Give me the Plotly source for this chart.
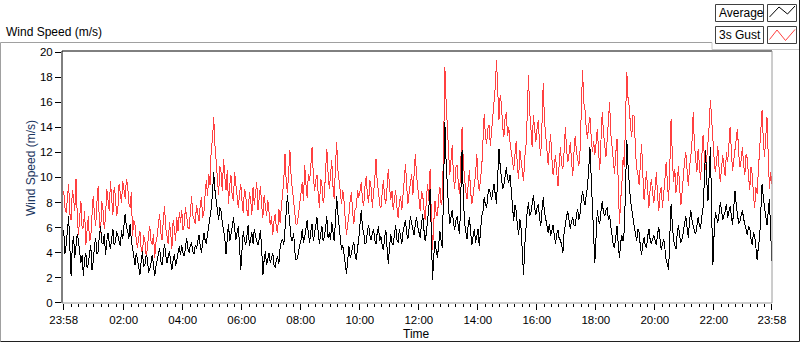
import plotly.graph_objects as go

# ---------------- data ----------------
# Samples every 5 minutes starting at 23:58, plus the reading found half-way
# between each pair of samples (the "_between" arrays).
step_minutes = 5
gust = [
    8.9, 7.2, 9.5, 6.6, 8.4, 9.9,
    5.4, 8.1, 6.0, 4.6, 6.9, 5.2,
    8.5, 6.1, 9.3, 5.6, 7.4, 6.8,
    8.2, 9.7, 7.0, 8.6, 7.4, 8.9,
    9.7, 8.3, 9.4, 7.6, 5.3, 6.2,
    4.4, 5.7, 3.9, 5.0, 4.2, 6.1,
    4.6, 3.6, 5.3, 7.1, 5.0, 7.7,
    5.2, 6.4, 4.3, 5.9, 6.8, 7.2,
    7.4, 6.2, 6.9, 5.9, 8.5, 6.6,
    7.8, 6.5, 8.4, 7.2, 9.8, 10.3,
    12.4, 14.8, 11.2, 8.6, 10.4, 11.5,
    9.0, 7.9, 10.2, 8.1, 9.3, 7.6,
    9.5, 7.2, 8.6, 6.9, 8.3, 9.2,
    8.8, 7.4, 9.3, 6.8, 7.9, 8.2,
    6.2, 5.4, 7.1, 5.6, 6.4, 8.9,
    11.9, 8.8, 12.2, 9.1, 7.4, 6.3,
    7.8, 9.6, 11.0, 8.4, 9.7, 12.4,
    8.9, 10.2, 7.6, 9.4, 8.5, 12.3,
    9.1, 11.4, 8.3, 12.8, 9.8, 7.9,
    8.1, 5.4, 7.0, 8.8, 6.3, 7.6,
    8.4, 9.6, 7.7, 10.1, 8.0, 9.2,
    8.5, 11.5, 8.9, 7.6, 9.8, 7.9,
    10.7, 8.2, 7.4, 9.0, 6.8, 8.5,
    8.8, 11.1, 7.9, 9.4, 8.6, 11.9,
    9.0, 7.3, 8.6, 6.6, 9.5, 10.7,
    4.2, 8.1, 6.9, 9.2, 8.4, 18.8,
    14.3, 10.2, 12.6, 9.1, 11.0, 8.7,
    14.0, 9.8, 8.3, 10.6, 7.9, 9.4,
    11.9, 8.9, 10.8, 15.1, 12.7, 14.2,
    13.6, 16.3, 19.4, 14.6, 15.8, 13.2,
    15.2, 14.0, 12.1, 10.6, 12.9, 9.9,
    11.4, 9.7, 12.6, 18.2, 13.5, 15.0,
    12.8, 14.6, 11.7, 17.5, 13.2, 11.0,
    13.5, 10.2, 11.8, 9.3, 12.4, 10.7,
    14.0, 11.2, 12.8, 10.1, 13.3, 11.6,
    12.2, 18.6, 15.4, 13.1, 14.8, 12.0,
    11.8, 13.9, 10.6, 15.2, 12.5, 13.0,
    16.0, 12.4, 10.3, 13.1, 6.3, 9.5,
    10.8, 18.4, 15.6, 13.2, 14.9, 10.7,
    9.4, 12.7, 8.2, 10.5, 7.6, 9.9,
    8.0, 10.4, 7.3, 9.2, 8.5, 11.2,
    8.1, 14.7, 9.6, 8.8, 10.9, 7.8,
    10.2, 12.0, 9.3, 11.6, 15.2, 11.1,
    12.3, 9.8, 13.4, 10.6, 12.8, 16.2,
    13.1, 10.4, 12.5, 9.6, 11.8, 10.1,
    11.2, 14.0, 10.5, 12.1, 13.9, 10.8,
    12.4, 10.2, 11.5, 9.0, 10.3, 7.6,
    8.7, 12.1, 15.4, 11.6, 14.8, 9.1,
    9.5,
]
gust_between = [
    7.6, 8.8, 7.1, 9.0, 7.3, 7.0,
    6.8, 5.9, 7.3, 5.8, 4.9, 7.0,
    7.0, 8.0, 6.4, 8.1, 5.9, 9.1,
    7.3, 8.4, 9.2, 6.9, 9.5, 8.0,
    8.8, 9.9, 7.9, 8.8, 6.6, 5.0,
    5.2, 4.3, 5.4, 3.8, 5.5, 4.9,
    5.5, 4.8, 6.2, 5.6, 6.6, 5.9,
    4.7, 5.6, 6.6, 4.9, 5.7, 6.4,
    5.8, 7.6, 6.0, 7.1, 7.0, 6.3,
    7.1, 7.7, 6.8, 8.6, 8.5, 9.4,
    13.0, 12.6, 9.8, 10.9, 8.9, 10.1,
    10.6, 9.3, 8.6, 10.4, 8.2, 8.7,
    8.1, 9.1, 7.4, 8.8, 7.0, 7.8,
    9.6, 8.4, 7.8, 8.6, 6.9, 7.1,
    6.9, 6.5, 5.9, 7.5, 7.6, 9.8,
    9.6, 10.8, 10.0, 8.2, 6.2, 7.1,
    8.7, 8.1, 9.5, 10.3, 11.0, 10.2,
    9.8, 8.6, 9.9, 8.0, 10.6, 10.4,
    10.2, 9.3, 10.9, 10.6, 8.6, 9.0,
    6.6, 6.3, 8.2, 7.2, 7.5, 9.0,
    8.9, 8.2, 9.3, 8.6, 9.8, 7.6,
    9.9, 9.6, 7.8, 9.0, 8.4, 9.2,
    9.3, 8.9, 8.3, 7.6, 8.0, 7.4,
    10.0, 9.2, 8.8, 10.3, 9.9, 10.1,
    8.2, 8.9, 7.4, 8.3, 8.1, 6.9,
    6.4, 7.0, 8.5, 7.8, 12.6, 16.1,
    11.8, 11.4, 10.0, 10.8, 9.4, 11.3,
    11.2, 8.9, 9.9, 8.8, 8.6, 10.3,
    9.7, 10.1, 12.9, 13.2, 13.9, 12.5,
    15.0, 17.2, 16.1, 16.6, 14.1, 14.8,
    13.3, 12.8, 11.3, 11.8, 10.8, 12.2,
    10.3, 11.6, 14.9, 15.3, 12.4, 13.7,
    13.9, 12.6, 14.3, 14.6, 12.0, 12.3,
    11.6, 10.9, 10.4, 11.1, 11.0, 12.1,
    12.3, 11.9, 11.4, 12.0, 12.1, 10.9,
    15.6, 16.0, 13.9, 14.2, 13.3, 12.9,
    12.7, 12.1, 13.0, 13.6, 11.6, 14.4,
    13.5, 11.1, 11.9, 9.6, 8.2, 11.6,
    14.9, 16.3, 14.1, 15.0, 12.2, 10.3,
    11.0, 10.3, 9.3, 8.9, 9.1, 8.8,
    9.1, 8.6, 8.8, 7.6, 9.9, 9.4,
    11.0, 11.8, 10.7, 9.5, 9.1, 8.9,
    11.3, 10.5, 10.8, 12.9, 12.6, 10.4,
    10.9, 11.7, 11.8, 11.5, 14.1, 14.0,
    11.5, 11.3, 10.8, 10.7, 10.9, 12.0,
    12.6, 12.2, 11.4, 12.9, 11.9, 11.4,
    11.0, 11.9, 10.1, 10.8, 8.6, 9.2,
    10.6, 13.6, 13.0, 13.2, 11.8, 10.4,
]
average = [
    5.8, 4.6, 6.9, 2.1, 5.3, 4.4,
    4.9, 3.2, 2.1, 4.0, 3.1, 4.6,
    3.3, 5.2, 4.1, 6.1, 4.7, 3.8,
    5.6, 4.3, 5.9, 4.8, 5.4, 4.5,
    5.1, 7.1, 5.8, 6.3, 4.2, 3.0,
    3.4, 2.2, 4.1, 3.0, 3.6, 2.7,
    3.8, 2.1, 3.5, 4.4, 3.0, 4.7,
    3.2, 4.1, 2.6, 3.9, 3.4, 4.5,
    4.6, 3.7, 5.2, 4.0, 4.8, 3.9,
    4.3, 5.4, 4.0, 5.6, 4.7, 6.2,
    7.5, 10.4, 8.1, 6.6, 7.3, 5.8,
    3.9, 6.3, 5.4, 6.8, 5.0, 6.1,
    2.6, 5.7, 4.6, 6.2, 5.1, 4.7,
    5.3, 4.6, 5.8, 2.2, 4.1, 3.6,
    3.2, 4.0, 2.8, 3.7, 4.4, 5.1,
    5.8, 8.6, 6.2, 4.9, 4.1, 3.5,
    4.6, 5.9, 5.2, 6.6, 4.8, 6.3,
    5.5, 6.8, 4.7, 6.1, 5.3, 6.9,
    5.6, 6.4, 4.9, 8.5, 6.0, 4.2,
    3.6, 2.3, 4.5, 3.9, 4.8, 3.4,
    5.1, 7.4, 5.6, 4.8, 6.2, 5.0,
    5.9, 4.7, 6.1, 5.3, 4.2, 5.8,
    3.1, 5.5, 4.6, 6.2, 4.8, 5.4,
    5.7, 6.6, 5.1, 6.9, 5.9, 6.3,
    6.0, 5.2, 7.1, 4.9, 6.4, 9.1,
    1.8, 4.9, 3.6, 5.7, 4.4, 14.4,
    9.0, 6.3, 7.4, 5.8, 6.9, 5.5,
    12.2, 6.4, 5.1, 6.8, 4.6, 5.9,
    5.3, 4.5, 6.9, 8.4, 7.6, 9.1,
    8.2, 9.5, 7.9, 12.3, 10.2, 9.4,
    10.8, 9.6, 8.8, 6.5, 7.3, 5.4,
    5.9, 2.2, 6.4, 8.0, 7.2, 8.6,
    7.0, 7.9, 6.1, 8.4, 6.8, 5.6,
    5.3, 6.2, 4.7, 5.8, 5.0, 4.0,
    6.5, 7.3, 5.9, 6.8, 6.1, 7.5,
    7.1, 8.9, 7.8, 9.3, 12.4, 8.2,
    3.2, 7.4, 6.3, 8.1, 6.9, 7.6,
    7.0, 5.2, 4.4, 6.1, 3.6, 5.4,
    5.8, 13.0, 9.2, 7.5, 6.1, 4.9,
    5.6, 3.8, 5.2, 4.4, 5.9, 4.7,
    5.4, 4.6, 6.0, 4.2, 5.1, 3.4,
    2.6, 7.9, 5.0, 4.3, 6.2, 4.8,
    5.7, 6.9, 5.2, 7.4, 6.1, 5.5,
    6.8, 5.9, 7.6, 12.2, 8.1, 12.4,
    3.0, 7.2, 6.4, 8.0, 6.6, 7.3,
    6.8, 7.7, 6.2, 8.9, 7.0, 6.5,
    7.4, 6.3, 5.4, 6.0, 4.6, 5.3,
    3.4, 5.1, 9.5, 7.8, 6.2, 8.3,
    3.3,
]
average_between = [
    3.9, 5.7, 4.4, 4.6, 3.6, 5.5,
    4.1, 3.8, 3.5, 2.8, 3.9, 2.6,
    4.5, 3.9, 5.4, 4.8, 5.5, 4.9,
    4.8, 5.1, 4.6, 5.7, 4.9, 5.8,
    6.2, 6.0, 5.1, 5.0, 3.5, 4.0,
    2.6, 3.3, 2.9, 3.8, 2.4, 3.2,
    3.0, 2.9, 4.0, 3.3, 3.9, 3.8,
    3.7, 3.3, 3.4, 2.9, 4.2, 3.8,
    4.0, 4.4, 4.3, 4.6, 4.1, 4.6,
    4.9, 4.6, 4.8, 5.0, 5.5, 6.9,
    8.8, 9.0, 7.0, 7.6, 6.4, 5.2,
    5.2, 4.9, 6.0, 5.7, 5.6, 4.6,
    4.2, 5.0, 5.3, 4.5, 5.6, 5.9,
    4.8, 5.1, 4.3, 3.4, 3.0, 4.0,
    3.6, 3.0, 3.5, 3.1, 4.9, 4.6,
    7.2, 7.3, 5.1, 5.6, 3.4, 4.2,
    5.0, 4.8, 5.9, 5.5, 5.7, 4.9,
    6.1, 5.6, 5.5, 4.9, 6.0, 5.2,
    5.0, 5.7, 6.6, 7.1, 4.9, 4.6,
    3.1, 3.4, 3.6, 4.5, 3.8, 4.4,
    6.3, 6.0, 4.7, 5.7, 5.4, 5.5,
    5.0, 5.6, 4.9, 4.6, 5.2, 4.4,
    4.4, 4.8, 5.5, 5.0, 5.9, 4.7,
    6.2, 5.5, 6.0, 6.3, 5.4, 6.8,
    5.5, 6.3, 5.8, 5.6, 7.6, 5.0,
    3.8, 4.1, 4.7, 4.9, 9.6, 11.3,
    7.5, 6.8, 6.4, 6.6, 6.0, 8.7,
    8.6, 5.7, 6.2, 5.6, 5.3, 4.8,
    5.9, 5.6, 7.3, 7.8, 8.6, 8.7,
    8.9, 8.6, 10.1, 10.9, 9.1, 10.0,
    9.9, 10.2, 7.6, 7.8, 6.2, 6.7,
    4.1, 4.6, 7.3, 6.9, 7.9, 7.6,
    7.6, 6.8, 7.4, 7.2, 6.2, 6.3,
    5.9, 5.4, 5.5, 5.1, 4.6, 5.6,
    6.9, 6.4, 6.5, 6.2, 7.0, 6.6,
    8.3, 8.2, 8.6, 10.6, 10.1, 5.4,
    5.6, 6.6, 7.3, 7.2, 7.4, 6.6,
    6.1, 4.6, 5.3, 4.7, 4.8, 4.9,
    9.4, 10.9, 8.1, 6.6, 5.5, 5.9,
    4.5, 4.7, 4.6, 5.3, 5.0, 5.1,
    5.0, 5.5, 5.1, 4.7, 4.3, 3.1,
    5.4, 6.3, 4.6, 5.5, 5.3, 5.1,
    6.4, 6.0, 6.5, 6.6, 5.7, 6.2,
    6.2, 6.9, 9.6, 9.8, 10.3, 7.2,
    5.5, 6.8, 7.1, 7.4, 7.0, 7.9,
    7.3, 7.0, 7.6, 7.8, 6.3, 7.0,
    6.7, 5.9, 6.1, 5.1, 5.6, 4.4,
    4.5, 7.3, 8.4, 6.9, 7.4, 5.6,
]

tick_minutes = [0, 122, 242, 362, 482, 602, 722, 842, 962, 1082, 1202, 1322, 1440]
tick_labels = ["23:58", "02:00", "04:00", "06:00", "08:00", "10:00", "12:00",
               "14:00", "16:00", "18:00", "20:00", "22:00", "23:58"]
y_ticks = [0, 2, 4, 6, 8, 10, 12, 14, 16, 18, 20]


def merge(main, between):
    out = []
    for i, v in enumerate(main):
        out.append(v)
        if i < len(between):
            out.append(between[i])
    return out


gust_all = merge(gust, gust_between)
average_all = merge(average, average_between)
minutes = [i * step_minutes / 2 for i in range(len(gust_all))]  # minutes after 23:58

# ---------------- layout helpers ----------------
W, H = 800, 342
L, R, T, B = 62, 28, 51, 39
PW, PH = W - L - R, H - T - B


def px(x):
    return (x - L) / PW


def py(y):
    return (H - B - y) / PH


minor_ticks = []
for a, b in zip(tick_minutes[:-1], tick_minutes[1:]):
    for k in range(1, 8):
        minor_ticks.append(a + (b - a) * k / 8)

FONT = "Liberation Sans, Arial, sans-serif"

fig = go.Figure()
fig.add_trace(go.Scatter(x=minutes, y=gust_all, mode="lines", name="3s Gust",
                         line=dict(color="#ff4040", width=1)))
fig.add_trace(go.Scatter(x=minutes, y=average_all, mode="lines", name="Average",
                         line=dict(color="#000000", width=1)))

fig.update_layout(
    width=W, height=H,
    margin=dict(l=L, r=R, t=T, b=B, pad=0),
    paper_bgcolor="white", plot_bgcolor="white",
    showlegend=False,
    font=dict(family=FONT, size=11, color="black"),
    xaxis=dict(
        range=[-3.5, 1440.2], showgrid=False, zeroline=False, showline=False,
        tickmode="array", tickvals=tick_minutes, ticktext=tick_labels,
        ticks="outside", ticklen=6, tickwidth=1, tickcolor="black",
        tickfont=dict(family=FONT, size=11.5, color="black"),
        minor=dict(tickmode="array", tickvals=minor_ticks, ticks="outside",
                   ticklen=3, tickwidth=1, tickcolor="black", showgrid=False),
        fixedrange=True,
    ),
    yaxis=dict(
        range=[-0.02, 20.09], showgrid=False, zeroline=False, showline=False,
        tickmode="array", tickvals=y_ticks,
        ticks="outside", ticklen=6, tickwidth=1, tickcolor="black",
        tickfont=dict(family=FONT, size=11.5, color="black"),
        fixedrange=True,
    ),
)

shapes = []
# plot frame: top/left dark, right/bottom gray
shapes.append(dict(type="line", xref="paper", yref="paper", x0=0, x1=1, y0=1, y1=1,
                   line=dict(color="black", width=1)))
shapes.append(dict(type="line", xref="paper", yref="paper", x0=0, x1=0, y0=0, y1=1,
                   line=dict(color="black", width=1)))
shapes.append(dict(type="line", xref="paper", yref="paper", x0=1, x1=1, y0=0, y1=1,
                   line=dict(color="#9a9a9a", width=1)))
shapes.append(dict(type="line", xref="paper", yref="paper", x0=0, x1=1, y0=0, y1=0,
                   line=dict(color="#9a9a9a", width=1)))
# outer panel frame
shapes.append(dict(type="line", xref="paper", yref="paper", x0=px(0.5), x1=px(712), y0=py(42.5), y1=py(42.5),
                   line=dict(color="#a0a0a0", width=1)))
shapes.append(dict(type="line", xref="paper", yref="paper", x0=px(0.5), x1=px(0.5), y0=py(42.5), y1=py(341.5),
                   line=dict(color="#a0a0a0", width=1)))
shapes.append(dict(type="line", xref="paper", yref="paper", x0=px(0.5), x1=px(799.5), y0=py(341.5), y1=py(341.5),
                   line=dict(color="#202020", width=1)))
shapes.append(dict(type="line", xref="paper", yref="paper", x0=px(799.5), x1=px(799.5), y0=py(0), y1=py(341.5),
                   line=dict(color="#202020", width=1)))
shapes.append(dict(type="line", xref="paper", yref="paper", x0=px(712), x1=px(712), y0=py(42.5), y1=py(49.5),
                   line=dict(color="#c8c8c8", width=1)))
shapes.append(dict(type="line", xref="paper", yref="paper", x0=px(712), x1=px(799), y0=py(49.5), y1=py(49.5),
                   line=dict(color="#c8c8c8", width=1)))


# legend boxes
def box(x0, y0, x1, y1):
    return dict(type="rect", xref="paper", yref="paper", x0=px(x0), x1=px(x1), y0=py(y1), y1=py(y0),
                line=dict(color="#404040", width=1), fillcolor="white")


shapes += [box(715.5, 4.5, 763.5, 21.5), box(767.5, 4.5, 796.5, 21.5),
           box(715.5, 26.5, 763.5, 43.5), box(767.5, 26.5, 796.5, 43.5)]


def zig(points, color):
    path = "M " + " L ".join(f"{px(a)},{py(b)}" for a, b in points)
    return dict(type="path", xref="paper", yref="paper", path=path,
                line=dict(color=color, width=1))


shapes.append(zig([(769.5, 17), (779, 7), (787.5, 14), (795, 6)], "black"))
shapes.append(zig([(769.5, 39.5), (777, 30), (785.5, 40.5), (795, 29.5)], "#ff4040"))

annotations = [
    dict(text="Wind Speed (m/s)", xref="paper", yref="paper", x=px(4), y=py(32),
         xanchor="left", yanchor="middle", showarrow=False,
         font=dict(family=FONT, size=12, color="black")),
    dict(text="Wind Speed (m/s)", xref="paper", yref="paper", x=px(31), y=py(168),
         xanchor="center", yanchor="middle", showarrow=False, textangle=-90,
         font=dict(family=FONT, size=12, color="#1c3660")),
    dict(text="Time", xref="paper", yref="paper", x=px(416), y=py(334),
         xanchor="center", yanchor="middle", showarrow=False,
         font=dict(family=FONT, size=12, color="black")),
    dict(text="Average", xref="paper", yref="paper", x=px(717), y=py(13),
         xanchor="left", yanchor="middle", showarrow=False,
         font=dict(family=FONT, size=12, color="black")),
    dict(text="3s Gust", xref="paper", yref="paper", x=px(717), y=py(35),
         xanchor="left", yanchor="middle", showarrow=False,
         font=dict(family=FONT, size=12, color="black")),
]

fig.update_layout(shapes=shapes, annotations=annotations)
fig.write_html(
    "out.html",
    config={"displayModeBar": False},
    post_script=(
        "document.body.style.margin='0';document.body.style.overflow='hidden';"
        "document.querySelectorAll('.scatterlayer path.js-line').forEach("
        "function(p){p.style.shapeRendering='crispEdges';});"
    ),
)
